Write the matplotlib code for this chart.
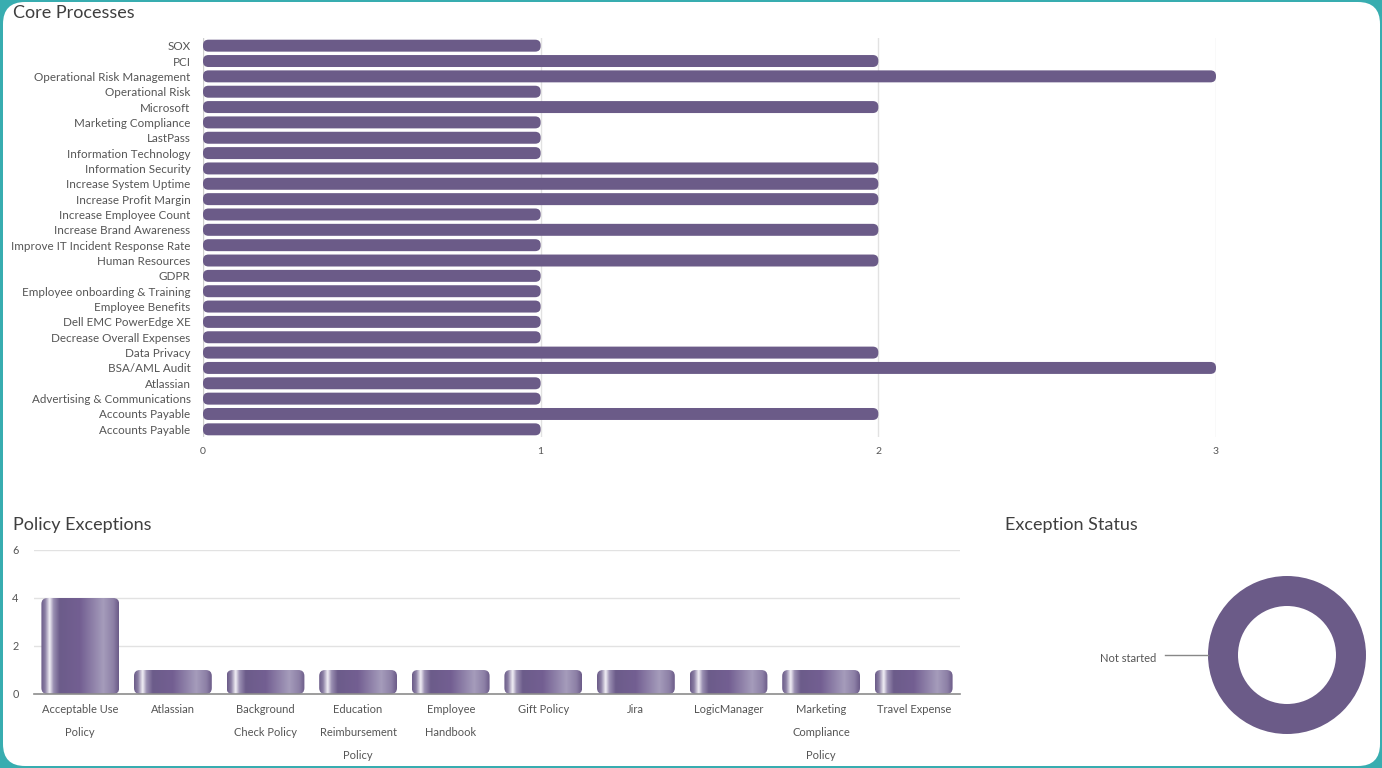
import numpy as np
import matplotlib
matplotlib.use("Agg")
import matplotlib.pyplot as plt
from matplotlib.patches import FancyBboxPatch
from matplotlib.colors import LinearSegmentedColormap
from matplotlib.transforms import IdentityTransform

plt.rcParams['font.family'] = ['Lato', 'DejaVu Sans']

# ---- data ----
core_labels = ["SOX", "PCI", "Operational Risk Management", "Operational Risk", "Microsoft",
               "Marketing Compliance", "LastPass", "Information Technology", "Information Security",
               "Increase System Uptime", "Increase Profit Margin", "Increase Employee Count",
               "Increase Brand Awareness", "Improve IT Incident Response Rate", "Human Resources",
               "GDPR", "Employee onboarding & Training", "Employee Benefits", "Dell EMC PowerEdge XE",
               "Decrease Overall Expenses", "Data Privacy", "BSA/AML Audit", "Atlassian",
               "Advertising & Communications", "Accounts Payable", "Accounts Payable"]
core_values = [1, 2, 3, 1, 2, 1, 1, 1, 2, 2, 2, 1, 2, 1, 2, 1, 1, 1, 1, 1, 2, 3, 1, 1, 2, 1]
core_ticks = [0, 1, 2, 3]

policy_labels = ["Acceptable Use\nPolicy", "Atlassian", "Background\nCheck Policy",
                 "Education\nReimbursement\nPolicy", "Employee\nHandbook", "Gift Policy", "Jira",
                 "LogicManager", "Marketing\nCompliance\nPolicy", "Travel Expense"]
policy_values = [4, 1, 1, 1, 1, 1, 1, 1, 1, 1]
policy_ticks = [0, 2, 4, 6]

status_labels = ["Not started"]
status_values = [1]

PURPLE = "#6b5b88"
TXT = "#555555"
W, H = 1382, 768

fig = plt.figure(figsize=(W / 100, H / 100), dpi=100, facecolor="#38adb0")
# white card with rounded corners
card = FancyBboxPatch((3, 2), W - 5, H - 4, boxstyle="round,pad=0,rounding_size=22",
                      transform=IdentityTransform(), facecolor="white", edgecolor="none", zorder=-10)
fig.patches.append(card)


def fx(px):
    return px / W


def fy(py):
    return 1 - py / H


def px_scale(ax):
    bb = ax.get_window_extent()
    x0, x1 = ax.get_xlim()
    y0, y1 = ax.get_ylim()
    return bb.width / abs(x1 - x0), bb.height / abs(y1 - y0)


# ---- Core Processes ----
ax1 = fig.add_axes([fx(203), fy(437), fx(1216) - fx(203), fy(38) - fy(437)])
ax1.patch.set_alpha(0)
ypos = np.arange(len(core_labels))
bars = ax1.barh(ypos, core_values, height=0.78, color=PURPLE)
ax1.set_xlim(0, 3)
ax1.set_ylim(len(core_labels) - 0.5, -0.5)
sx, sy = px_scale(ax1)
r = 5.5 / sx
for b in bars:
    b.set_visible(False)
    p = FancyBboxPatch((b.get_x(), b.get_y()), b.get_width(), b.get_height(),
                       boxstyle=f"round,pad=0,rounding_size={r}", mutation_aspect=sx / sy,
                       facecolor=PURPLE, edgecolor="none", zorder=3, clip_on=False)
    ax1.add_patch(p)
ax1.set_yticks(ypos)
ax1.set_yticklabels(core_labels, fontsize=8.35, color=TXT)
ax1.set_xticks(core_ticks)
ax1.set_xticklabels([str(t) for t in core_ticks], fontsize=7.5, color=TXT)
ax1.tick_params(axis="y", length=0, pad=9)
ax1.tick_params(axis="x", length=0, pad=7)
for s in ax1.spines.values():
    s.set_visible(False)
for t in core_ticks:
    ax1.axvline(t, color="#cfcfcf" if t == 0 else "#e2e2e2", lw=1, zorder=1)
fig.text(fx(13), fy(13), "Core Processes", fontsize=13, color="#3f3f3f", va="center", ha="left")

# ---- Policy Exceptions ----
ax2 = fig.add_axes([fx(34), fy(694), fx(960) - fx(34), fy(550) - fy(694)])
ax2.patch.set_alpha(0)
xpos = np.arange(len(policy_labels))
pbars = ax2.bar(xpos, policy_values, width=0.84, color=PURPLE)
ax2.set_xlim(-0.5, len(policy_labels) - 0.5)
ax2.set_ylim(0, 6)
sx2, sy2 = px_scale(ax2)
r2 = 6 / sx2
grad_cmap = LinearSegmentedColormap.from_list("metal", [
    (0.0, "#6b5b88"), (0.05, "#8a7ea3"), (0.11, "#f2eff6"), (0.16, "#9a8fb2"),
    (0.24, "#6c5c8a"), (0.5, "#735f92"), (0.8, "#a59cbb"), (0.93, "#8d80a6"), (1.0, "#6b5b88")])
grad = np.linspace(0, 1, 256).reshape(1, -1)
for b in pbars:
    b.set_visible(False)
    x0, y0, w, h = b.get_x(), b.get_y(), b.get_width(), b.get_height()
    p = FancyBboxPatch((x0, y0), w, h, boxstyle=f"round,pad=0,rounding_size={r2}",
                       mutation_aspect=sx2 / sy2, facecolor="none", edgecolor="none", zorder=3)
    ax2.add_patch(p)
    im = ax2.imshow(grad, extent=[x0, x0 + w, y0, y0 + h], aspect="auto", cmap=grad_cmap,
                    zorder=3, interpolation="bilinear")
    im.set_clip_path(p)
ax2.set_xlim(-0.5, len(policy_labels) - 0.5)
ax2.set_ylim(0, 6)
ax2.set_xticks(xpos)
ax2.set_xticklabels(policy_labels, fontsize=8, color=TXT, linespacing=2.35, va="top")
ax2.set_yticks(policy_ticks)
ax2.set_yticklabels([str(t) for t in policy_ticks], fontsize=7.8, color=TXT)
ax2.tick_params(axis="y", length=0, pad=11)
ax2.tick_params(axis="x", length=0, pad=7)
for s in ax2.spines.values():
    s.set_visible(False)
for t in policy_ticks[1:]:
    ax2.axhline(t, color="#e2e2e2", lw=1, zorder=1)
ax2.axhline(0, color="#8c8c8c", lw=1.2, zorder=4, clip_on=False)
fig.text(fx(13), fy(525), "Policy Exceptions", fontsize=13, color="#3f3f3f", va="center", ha="left")

# ---- Exception Status ----
ax3 = fig.add_axes([fx(1187), fy(755), fx(200), 200 / H])
ax3.pie(status_values, radius=0.79, colors=[PURPLE], startangle=90,
        wedgeprops=dict(width=0.30, edgecolor="none"))
ax3.set_xlim(-1, 1)
ax3.set_ylim(-1, 1)
ax3.axis("off")
ax3.plot([-1.22, -0.79], [0, 0], color="#888888", lw=1, clip_on=False)
ax3.text(-1.31, -0.03, status_labels[0], ha="right", va="center", fontsize=8, color=TXT,
         clip_on=False)
fig.text(fx(1005), fy(525), "Exception Status", fontsize=13, color="#3f3f3f", va="center", ha="left")

fig.savefig("out.png", dpi=100, facecolor=fig.get_facecolor())
